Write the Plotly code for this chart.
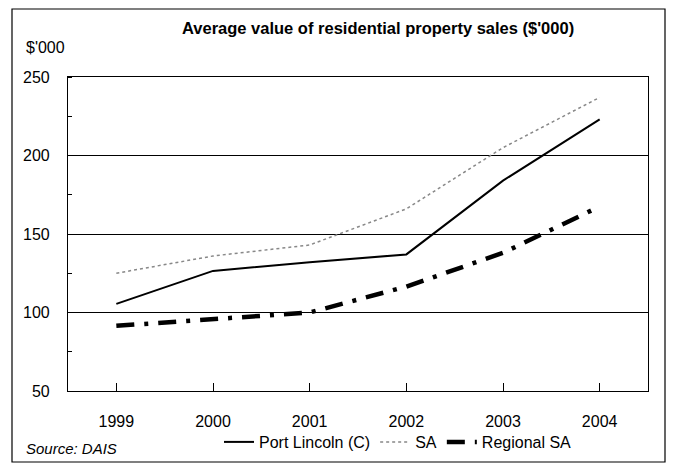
import plotly.graph_objects as go

years = [1999, 2000, 2001, 2002, 2003, 2004]
port_lincoln = [105.5, 126.5, 132, 137, 184, 223]
sa = [125, 136, 143, 166, 205, 237]
regional_sa = [91.5, 96, 100, 116.5, 138, 167.5]
y_ticks = [50, 100, 150, 200, 250]

FONT = "Liberation Sans, Arial, sans-serif"

fig = go.Figure()
fig.add_trace(go.Scatter(x=years, y=port_lincoln, mode="lines", name="Port Lincoln (C)",
                         line=dict(color="black", width=2)))
fig.add_trace(go.Scatter(x=years, y=sa, mode="lines", name="SA",
                         line=dict(color="#888888", width=1.5, dash="dot")))
fig.add_trace(go.Scatter(x=years, y=regional_sa, mode="lines", name="Regional SA",
                         line=dict(color="black", width=4.5, dash="18px,10px,4px,10px")))

# page has an 8px body margin; work in window coordinates and shift
OFF = 8
L, R, T, B = 68 - OFF, 648 - OFF, 77 - OFF, 391 - OFF
W, H = 675 - OFF, 464 - OFF
pw, ph = R - L, B - T

def px(x):
    return (x - OFF - L) / pw

def py(y):
    return (B - (y - OFF)) / ph

fig.update_layout(
    width=W, height=H,
    margin=dict(l=L, r=W - R, t=T, b=H - B, pad=0, autoexpand=False),
    paper_bgcolor="white", plot_bgcolor="white",
    font=dict(family=FONT, size=16, color="black"),
    showlegend=True,
    legend=dict(orientation="h", x=px(398), y=py(442), xanchor="center", yanchor="middle",
                font=dict(size=16), bgcolor="rgba(0,0,0,0)", itemwidth=30,
                tracegroupgap=0),
    xaxis=dict(range=[1998.5, 2004.5], tickvals=years, ticks="inside", ticklen=8,
               tickcolor="black", tickwidth=1, showline=True, linecolor="black",
               linewidth=1.2, mirror=True, showgrid=False, zeroline=False,
               ticklabelstandoff=16, tickfont=dict(size=16)),
    yaxis=dict(range=[50, 250], tickvals=y_ticks, ticks="", showline=True,
               linecolor="black", linewidth=1.2, mirror=True, showgrid=True,
               gridcolor="black", gridwidth=1, zeroline=False,
               ticklabelstandoff=14, tickfont=dict(size=16),
               minor=dict(dtick=25, tick0=50, ticks="inside", ticklen=4,
                          tickcolor="black", showgrid=False)),
    shapes=[dict(type="rect", xref="paper", yref="paper",
                 x0=px(12), x1=px(665), y0=py(462), y1=py(9),
                 line=dict(color="black", width=1.2), fillcolor="rgba(0,0,0,0)", layer="below")],
    annotations=[
        dict(text="<b>Average value of residential property sales ($'000)</b>", xref="paper",
             yref="paper", x=px(378), y=py(28), xanchor="center", yanchor="middle",
             showarrow=False, font=dict(size=16.5)),
        dict(text="$'000", xref="paper", yref="paper", x=px(24), y=py(48), xanchor="left",
             yanchor="middle", showarrow=False, font=dict(size=16)),
        dict(text="<i>Source: DAIS</i>", xref="paper", yref="paper", x=px(24), y=py(448),
             xanchor="left", yanchor="middle", showarrow=False, font=dict(size=15)),
    ],
)

fig.write_html("out.html")
